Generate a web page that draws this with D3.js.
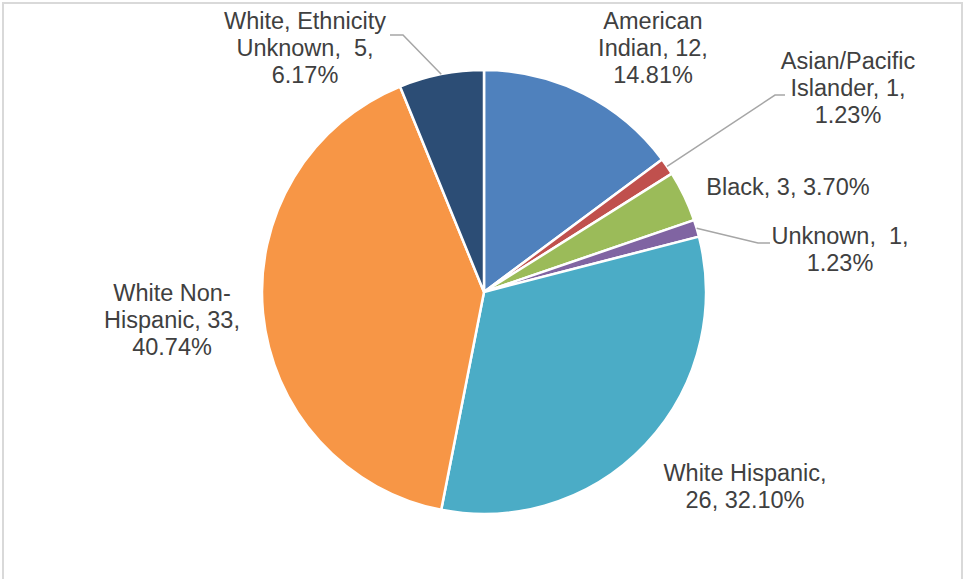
<!DOCTYPE html>
<html>
<head>
<meta charset="utf-8">
<script src="https://cdn.jsdelivr.net/npm/d3@7"></script>
<style>
  html, body { margin: 0; padding: 0; background: #fff; }
  svg { display: block; }
  text { font-family: "Liberation Sans", Arial, sans-serif; white-space: pre; }
</style>
</head>
<body>
<svg id="chart" width="964" height="579"></svg>
<script>
// Counts by race / ethnicity
const categories = [
  "American Indian",
  "Asian/Pacific Islander",
  "Black",
  "Unknown",
  "White Hispanic",
  "White Non-Hispanic",
  "White, Ethnicity Unknown"
];
const counts = [12, 1, 3, 1, 26, 33, 5];
const colors = ["#4f81bd", "#c0504d", "#9bbb59", "#8064a2", "#4bacc6", "#f79646", "#2c4d75"];

// Data label lines ({v} = count, {p} = percent of total)
const labelLines = [
  ["American", "Indian, {v},", "{p}"],
  ["Asian/Pacific", "Islander, {v},", "{p}"],
  ["Black, {v}, {p}"],
  ["Unknown,  {v},", "{p}"],
  ["White Hispanic,", "{v}, {p}"],
  ["White Non-", "Hispanic, {v},", "{p}"],
  ["White, Ethnicity", "Unknown,  {v},", "{p}"]
];

// Label placement: centre x, centre y of first line
const labelPos = [
  [653, 20], [848, 60], [788, 186], [840, 235],
  [745, 472], [172, 292], [305, 20]
];
// Leader lines: elbow point and label-side end (null = no leader)
const leaders = [
  null,
  [[775, 95], [785, 95]],
  null,
  [[758, 243], [770, 243]],
  null,
  null,
  [[403, 35], [390, 35]]
];

const cx = 484, cy = 292, R = 222;
const lineH = 27;
const fontSize = 23.5;

const svg = d3.select("#chart");

// chart area frame
svg.append("rect")
  .attr("x", 3).attr("y", 3)
  .attr("width", 959).attr("height", 620)
  .attr("fill", "#fff")
  .attr("stroke", "#d9d9d9")
  .attr("stroke-width", 2);

const total = d3.sum(counts);
const data = categories.map((c, i) => ({ cat: c, v: counts[i], i }));

const pie = d3.pie().value(d => d.v).sort(null).startAngle(0).endAngle(2 * Math.PI);
const arcs = pie(data);
const arc = d3.arc().innerRadius(0).outerRadius(R);

const g = svg.append("g").attr("transform", `translate(${cx},${cy})`);

g.selectAll("path.slice")
  .data(arcs)
  .join("path")
  .attr("class", "slice")
  .attr("d", arc)
  .attr("fill", d => colors[d.data.i])
  .attr("stroke", "#fff")
  .attr("stroke-width", 2.5)
  .attr("stroke-linejoin", "round");

// leader lines from slice edge midpoint to label
arcs.forEach(a => {
  const L = leaders[a.data.i];
  if (!L) return;
  const mid = (a.startAngle + a.endAngle) / 2;
  const ex = cx + R * Math.sin(mid), ey = cy - R * Math.cos(mid);
  svg.append("path")
    .attr("d", d3.line()([[ex, ey], L[0], L[1]]))
    .attr("fill", "none")
    .attr("stroke", "#a6a6a6")
    .attr("stroke-width", 1.5);
});

const fmtPct = v => (v / total * 100).toFixed(2) + "%";

arcs.forEach(a => {
  const i = a.data.i;
  const lines = labelLines[i].map(t => t.replace("{v}", a.data.v).replace("{p}", fmtPct(a.data.v)));
  const [x, y] = labelPos[i];
  const t = svg.append("text")
    .attr("text-anchor", "middle")
    .attr("font-size", fontSize)
    .attr("fill", "#404040");
  lines.forEach((ln, k) => {
    t.append("tspan")
      .attr("x", x)
      .attr("y", y + k * lineH + fontSize * 0.37)
      .text(ln);
  });
});
</script>
</body>
</html>
